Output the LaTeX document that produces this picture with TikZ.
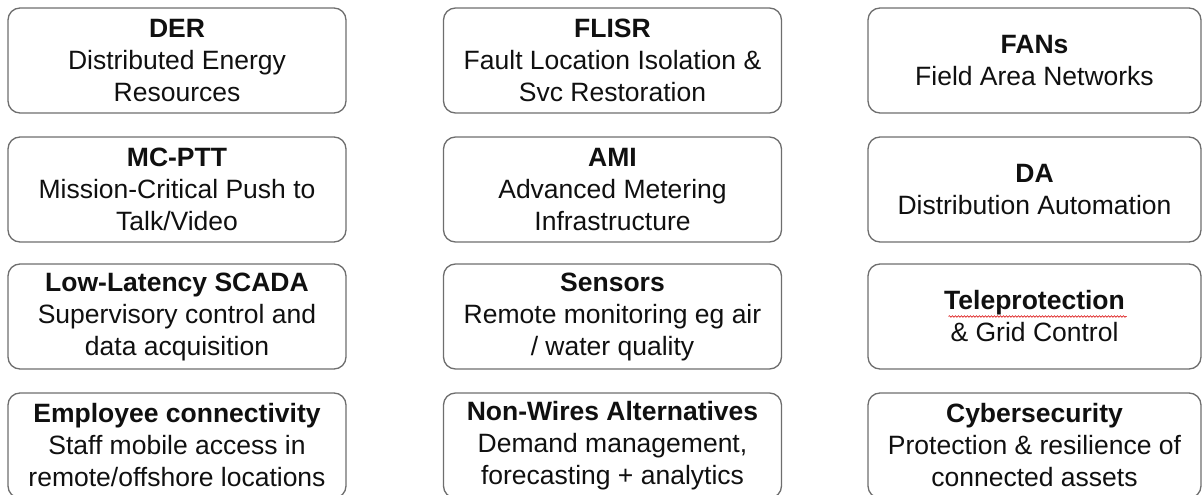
\documentclass[tikz,border=0pt]{standalone}
\usepackage{fontspec}
\setmainfont{Liberation Sans}
\usetikzlibrary{decorations.pathmorphing}
\definecolor{boxline}{HTML}{6E6E6E}
\definecolor{txt}{HTML}{101010}
\tikzset{
  card/.style={draw=boxline, line width=1.3pt, rounded corners=12pt, fill=white,
    minimum height=105pt, inner sep=0pt, align=center, text=txt,
    font=\fontsize{26.5}{32}\selectfont},
  cardA/.style={card, minimum width=338pt},
  cardC/.style={card, minimum width=333pt},
  squiggle/.style={draw=red!85!black, line width=0.6pt,
    decorate, decoration={snake, amplitude=0.8pt, segment length=3pt}}
}
\begin{document}
\begin{tikzpicture}[x=1pt,y=-1pt]
\useasboundingbox (0,0) rectangle (1203,495);
% column 1
\node[cardA] (der)  at (177,60.5)  {\textbf{DER}\\Distributed Energy\\Resources};
\node[cardA] (mc)   at (177,189.5) {\textbf{MC-PTT}\\Mission-Critical Push to\\Talk/Video};
\node[cardA] (scada) at (177,316.5) {\textbf{Low-Latency SCADA}\\Supervisory control and\\data acquisition};
\node[cardA] (emp)  at (177,445.5) {\textbf{Employee connectivity}\\Staff mobile access in\\remote/offshore locations};
% column 2
\node[cardA] (flisr) at (612.5,60.5)  {\textbf{FLISR}\\Fault Location Isolation \&\\Svc Restoration};
\node[cardA] (ami)   at (612.5,189.5) {\textbf{AMI}\\Advanced Metering\\Infrastructure};
\node[cardA] (sens)  at (612.5,316.5) {\textbf{Sensors}\\Remote monitoring eg air\\/ water quality};
\node[cardA] (nwa)   at (612.5,445.5) {\textbf{Non-Wires Alternatives}\\Demand management,\\forecasting + analytics};
% column 3
\node[cardC] (fans) at (1034.5,60.5)  {\textbf{FANs}\\Field Area Networks};
\node[cardC] (da)   at (1034.5,189.5) {\textbf{DA}\\Distribution Automation};
\node[cardC] (tele) at (1034.5,316.5) {\textbf{Teleprotection}\\\&~Grid Control};
\node[cardC] (cyber) at (1034.5,445.5) {\textbf{Cybersecurity}\\Protection \& resilience of\\connected assets};
% spell-check underline
\draw[squiggle] ([xshift=-86pt,yshift=0pt]tele.center) -- ([xshift=92pt,yshift=0pt]tele.center);
\end{tikzpicture}
\end{document}
